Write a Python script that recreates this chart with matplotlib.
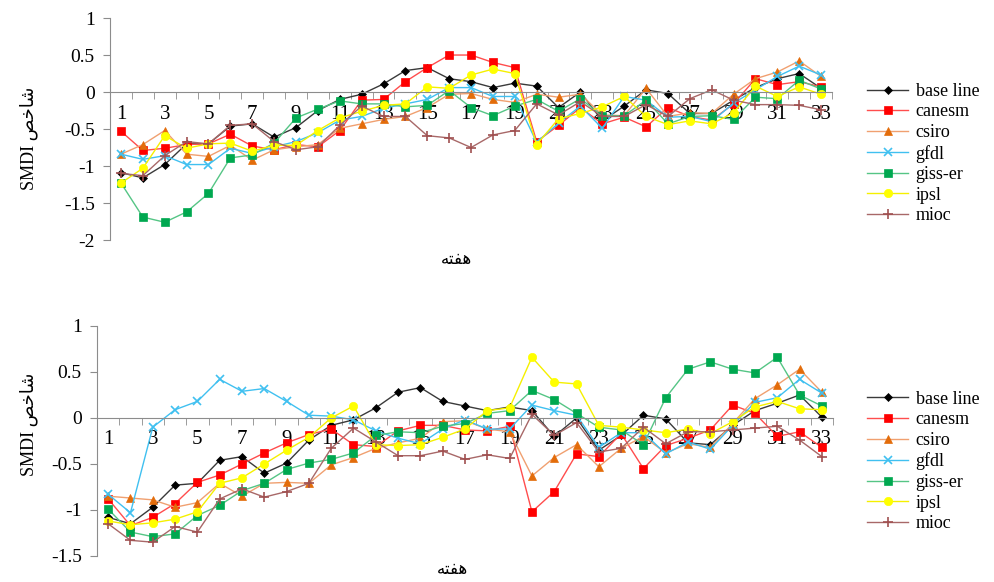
import numpy as np
import matplotlib.pyplot as plt
from matplotlib.ticker import FixedLocator, FuncFormatter

plt.rcParams['axes.unicode_minus'] = False
plt.rcParams['font.family'] = ['Liberation Serif', 'DejaVu Sans']

weeks = list(range(1, 34))
series_names = ["base line", "canesm", "csiro", "gfdl", "giss-er", "ipsl", "mioc"]

# top panel
top_base = [-1.09, -1.16, -0.98, -0.70, -0.70, -0.46, -0.43, -0.61, -0.48, -0.25, -0.10, -0.03, 0.11,
            0.29, 0.33, 0.18, 0.14, 0.06, 0.12, 0.08, -0.21, 0.00, -0.39, -0.19, 0.03, -0.02, -0.29,
            -0.29, -0.11, 0.06, 0.18, 0.25, 0.05]
top_canesm = [-0.53, -0.79, -0.76, -0.71, -0.70, -0.57, -0.73, -0.78, -0.71, -0.74, -0.52, -0.11, -0.10,
              0.14, 0.33, 0.50, 0.50, 0.40, 0.33, -0.67, -0.45, -0.21, -0.43, -0.34, -0.47, -0.21, -0.33,
              -0.38, -0.16, 0.18, 0.10, 0.14, 0.07]
top_csiro = [-0.84, -0.71, -0.52, -0.84, -0.87, -0.72, -0.92, -0.78, -0.74, -0.71, -0.49, -0.43, -0.37,
             -0.33, -0.21, -0.03, -0.02, -0.10, -0.14, -0.03, -0.07, -0.03, -0.31, -0.32, 0.05, -0.33,
             -0.28, -0.29, -0.03, 0.18, 0.27, 0.42, 0.21]
top_gfdl = [-0.84, -0.91, -0.86, -0.98, -0.98, -0.76, -0.83, -0.74, -0.67, -0.55, -0.38, -0.33, -0.22,
            -0.16, -0.10, 0.06, 0.06, -0.06, -0.06, -0.68, -0.42, -0.19, -0.49, -0.06, -0.11, -0.34,
            -0.33, -0.40, -0.15, 0.03, 0.21, 0.35, 0.23]
top_giss = [-1.23, -1.69, -1.76, -1.62, -1.37, -0.89, -0.85, -0.69, -0.35, -0.23, -0.12, -0.16, -0.16,
            -0.20, -0.18, 0.02, -0.21, -0.32, -0.19, -0.10, -0.26, -0.09, -0.32, -0.32, -0.11, -0.43,
            -0.33, -0.32, -0.37, -0.07, -0.09, 0.16, 0.04]
top_ipsl = [-1.23, -1.03, -0.59, -0.76, -0.70, -0.69, -0.80, -0.72, -0.72, -0.52, -0.35, -0.26, -0.18,
            -0.16, 0.07, 0.05, 0.23, 0.31, 0.25, -0.71, -0.36, -0.29, -0.20, -0.06, -0.33, -0.44,
            -0.39, -0.43, -0.28, 0.08, -0.06, 0.07, -0.03]
top_mioc = [-1.10, -1.13, -0.86, -0.67, -0.70, -0.45, -0.43, -0.67, -0.78, -0.74, -0.45, -0.19, -0.33,
            -0.33, -0.59, -0.62, -0.75, -0.58, -0.52, -0.16, -0.31, -0.13, -0.33, -0.33, -0.17, -0.33,
            -0.09, 0.03, -0.11, -0.17, -0.17, -0.18, -0.24]

# bottom panel
bot_base = [-1.08, -1.15, -0.97, -0.73, -0.71, -0.46, -0.42, -0.60, -0.49, -0.24, -0.08, -0.02, 0.11,
            0.28, 0.33, 0.18, 0.13, 0.08, 0.12, 0.08, -0.20, 0.00, -0.35, -0.19, 0.03, -0.01, -0.27,
            -0.29, -0.08, 0.08, 0.16, 0.25, 0.01]
bot_canesm = [-0.88, -1.17, -1.08, -0.93, -0.70, -0.62, -0.50, -0.38, -0.27, -0.18, -0.12, -0.29, -0.31,
              -0.14, -0.08, -0.08, -0.13, -0.14, -0.09, -1.02, -0.80, -0.39, -0.42, -0.17, -0.55, -0.30,
              -0.22, -0.13, 0.14, 0.05, -0.20, -0.15, -0.32]
bot_csiro = [-0.85, -0.87, -0.89, -0.97, -0.92, -0.71, -0.85, -0.71, -0.70, -0.71, -0.51, -0.43, -0.33,
             -0.27, -0.22, -0.04, -0.03, -0.12, -0.15, -0.63, -0.43, -0.29, -0.53, -0.33, -0.20, -0.38,
             -0.28, -0.32, -0.06, 0.21, 0.36, 0.53, 0.28]
bot_gfdl = [-0.83, -1.03, -0.10, 0.09, 0.18, 0.42, 0.29, 0.32, 0.18, 0.03, 0.02, -0.02, -0.14, -0.22,
            -0.28, -0.12, -0.02, -0.12, -0.12, 0.14, 0.08, 0.03, -0.32, -0.16, -0.16, -0.39, -0.26,
            -0.34, -0.08, 0.17, 0.22, 0.42, 0.27]
bot_giss = [-0.99, -1.24, -1.29, -1.26, -1.06, -0.95, -0.79, -0.71, -0.56, -0.49, -0.45, -0.38, -0.19,
            -0.15, -0.16, -0.09, -0.06, 0.05, 0.08, 0.30, 0.20, 0.05, -0.10, -0.13, -0.29, 0.22, 0.53,
            0.61, 0.53, 0.49, 0.66, 0.25, 0.13]
bot_ipsl = [-1.12, -1.16, -1.14, -1.10, -1.02, -0.71, -0.65, -0.50, -0.35, -0.21, 0.00, 0.13, -0.29,
            -0.30, -0.29, -0.21, -0.12, 0.08, 0.11, 0.66, 0.39, 0.37, -0.08, -0.10, -0.13, -0.16,
            -0.12, -0.17, -0.04, 0.12, 0.18, 0.10, 0.09]
bot_mioc = [-1.15, -1.33, -1.35, -1.18, -1.24, -0.88, -0.77, -0.86, -0.80, -0.71, -0.33, -0.11, -0.26,
            -0.41, -0.41, -0.36, -0.45, -0.40, -0.44, 0.04, -0.19, -0.05, -0.37, -0.33, -0.10, -0.28,
            -0.15, -0.15, -0.13, -0.11, -0.09, -0.24, -0.42]

top_data = [top_base, top_canesm, top_csiro, top_gfdl, top_giss, top_ipsl, top_mioc]
bot_data = [bot_base, bot_canesm, bot_csiro, bot_gfdl, bot_giss, bot_ipsl, bot_mioc]

# (line colour, marker, marker colour, marker size)
styles = [
    ("#3a3a3a", "D", "#000000", 4),
    ("#ff4d4d", "s", "#ff0000", 6),
    ("#f0a070", "^", "#e36c0a", 6),
    ("#40c0f0", "x", "#40c0f0", 6),
    ("#55c585", "s", "#00a850", 6),
    ("#f5f000", "o", "#ffff00", 6),
    ("#a86868", "+", "#a05050", 7),
]

grey = "#8c8c8c"
y_label = "SMDI " + "\uFEBA\uFEA7\uFE8E\uFEB7"
x_label = "\uFEEA\uFE98\uFED4\uFEEB"

fig = plt.figure(figsize=(9.95, 5.82), dpi=100)
ax_top = fig.add_axes([0.1106, 0.5876, 0.7256, 0.3814])
ax_bot = fig.add_axes([0.0975, 0.0447, 0.7397, 0.3952])


def setup(ax, data, ylims, leg_anchor, ylab_y):
    for name, vals, (lc, mk, mc, ms) in zip(series_names, data, styles):
        ax.plot(weeks, vals, color=lc, lw=1.0, marker=mk, markersize=ms,
                markerfacecolor=mc, markeredgecolor=mc, markeredgewidth=1.2 if mk in "x+" else 0.5,
                label=name)
    ax.set_xlim(0.5, 33.5)
    ax.set_ylim(*ylims)
    for s in ["top", "right"]:
        ax.spines[s].set_visible(False)
    ax.spines["bottom"].set_position(("data", 0))
    ax.spines["bottom"].set_color(grey)
    ax.spines["left"].set_color(grey)
    ax.xaxis.set_major_locator(FixedLocator(weeks))
    ax.set_xticklabels([str(w) if w % 2 == 1 else "" for w in weeks], fontsize=15)
    ax.xaxis.set_minor_locator(FixedLocator(np.arange(1.5, 34, 1.0)))
    ax.tick_params(axis="x", which="major", length=0, pad=9)
    ax.tick_params(axis="x", which="minor", length=5, color=grey, direction="out")
    ax.set_yticks(np.arange(ylims[0], ylims[1] + 0.01, 0.5))
    ax.yaxis.set_major_formatter(FuncFormatter(lambda v, p: "%g" % v))
    ax.tick_params(axis="y", length=5, color=grey, labelsize=14, pad=6)
    ax.set_ylabel(y_label, fontsize=13)
    ax.yaxis.set_label_coords(0.038, ylab_y, transform=fig.transFigure)
    ax.legend(loc="upper left", bbox_to_anchor=leg_anchor, bbox_transform=fig.transFigure,
              frameon=False, fontsize=13, handlelength=2.3, handletextpad=0.4,
              labelspacing=0.2, borderaxespad=0)


setup(ax_top, top_data, (-2, 1), (0.864, 0.870), 1 - 138 / 582)
setup(ax_bot, bot_data, (-1.5, 1), (0.864, 0.341), 1 - 424 / 582)

fig.text(0.459, 0.555, x_label, ha="center", va="center", fontsize=12, family="DejaVu Sans")
fig.text(0.455, 0.022, x_label, ha="center", va="center", fontsize=12, family="DejaVu Sans")

fig.savefig("out.png", dpi=100)
